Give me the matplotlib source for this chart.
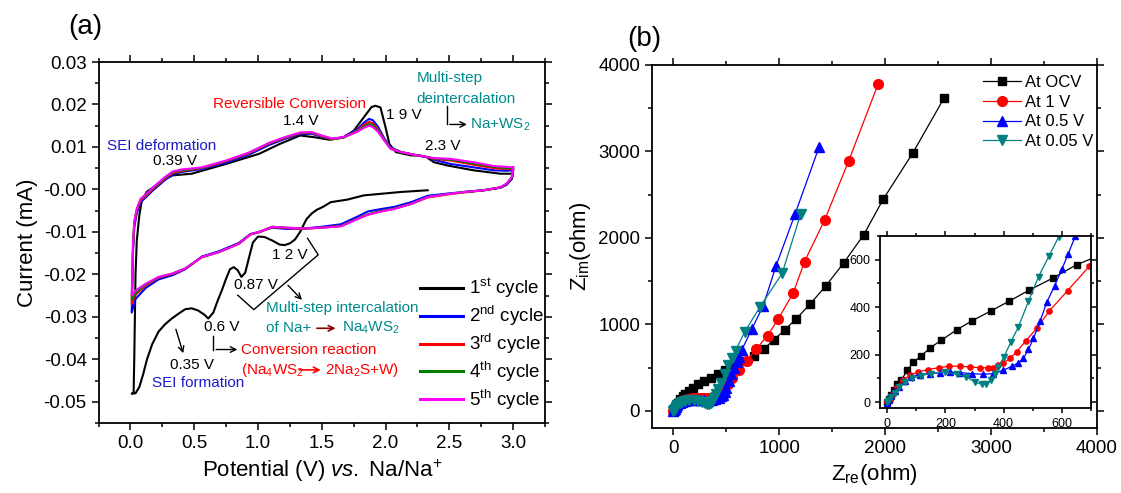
import matplotlib
matplotlib.use('Agg')
import matplotlib.pyplot as plt
from matplotlib.ticker import MultipleLocator, FormatStrFormatter

plt.rcParams['font.family'] = ['Liberation Sans', 'DejaVu Sans']
plt.rcParams['mathtext.fontset'] = 'custom'
plt.rcParams['mathtext.rm'] = 'Liberation Sans'
plt.rcParams['mathtext.it'] = 'Liberation Sans:italic'
plt.rcParams['axes.unicode_minus'] = False

# ---- (a) CV data ----
# ciclo 1 (negro): barrido catodico desde OCV y luego anodico
v1_cath = [2.33, 2.12, 1.83, 1.70, 1.57, 1.51, 1.46, 1.42, 1.38, 1.33, 1.29, 1.25, 1.21, 1.17,
           1.11, 1.05, 1.00, 0.96, 0.93, 0.90, 0.87, 0.84, 0.81, 0.78, 0.75, 0.72, 0.68, 0.65,
           0.61, 0.58, 0.53, 0.48, 0.43, 0.38, 0.32, 0.27, 0.22, 0.17, 0.13, 0.10, 0.07, 0.04, 0.01]
i1_cath = [-0.0002, -0.0006, -0.0014, -0.0024, -0.0030, -0.0041, -0.0048, -0.0057, -0.0070,
           -0.0100, -0.0118, -0.0127, -0.0131, -0.0130, -0.0120, -0.0112, -0.0111, -0.0125,
           -0.0160, -0.0196, -0.0206, -0.0190, -0.0183, -0.0188, -0.0210, -0.0235, -0.0265,
           -0.0290, -0.0304, -0.0295, -0.0285, -0.0280, -0.0282, -0.0292, -0.0305, -0.0318,
           -0.0335, -0.0365, -0.0400, -0.0435, -0.0465, -0.0480, -0.0481]
v1_anod = [0.01, 0.025, 0.03, 0.035, 0.04, 0.05, 0.07, 0.09, 0.13, 0.195, 0.26, 0.33, 0.48, 0.75,
           1.01, 1.17, 1.33, 1.44, 1.56, 1.67, 1.75, 1.81, 1.86, 1.89, 1.92, 1.96, 2.00, 2.03,
           2.08, 2.20, 2.27, 2.32, 2.38, 2.49, 2.69, 2.90, 3.00, 2.99, 2.95, 2.90, 2.77, 2.62]
i1_anod = [-0.0481, -0.0478, -0.0400, -0.0300, -0.0200, -0.0120, -0.0060, -0.0025, -0.0005,
           0.0008, 0.0022, 0.0033, 0.0037, 0.0060, 0.0084, 0.0107, 0.0127, 0.0123, 0.0117,
           0.0123, 0.0138, 0.0162, 0.0182, 0.0194, 0.0197, 0.0193, 0.0146, 0.0107, 0.0088,
           0.0080, 0.0080, 0.0076, 0.0064, 0.0056, 0.0045, 0.0037, 0.0037, 0.0025, 0.0012,
           0.0004, -0.0002, -0.0006]

# ciclos 2-5: rama catodica (3.0 V -> 0.01 V) y anodica (0.01 V -> 3.0 V)
v_cath = [3.00, 2.99, 2.95, 2.90, 2.77, 2.62, 2.51, 2.33, 2.20, 2.07, 1.95, 1.86, 1.78, 1.65,
          1.50, 1.36, 1.22, 1.11, 1.01, 0.94, 0.85, 0.77, 0.69, 0.56, 0.43, 0.33, 0.22, 0.12,
          0.04, 0.01]
v_anod = [0.01, 0.015, 0.02, 0.03, 0.05, 0.08, 0.12, 0.17, 0.22, 0.27, 0.33, 0.40, 0.47, 0.56,
          0.75, 0.93, 1.09, 1.22, 1.33, 1.42, 1.50, 1.58, 1.67, 1.73, 1.78, 1.83, 1.87, 1.90,
          1.94, 1.99, 2.04, 2.12, 2.25, 2.33, 2.38, 2.51, 2.69, 2.85, 2.95, 3.00]

i2_cath = [0.0045, 0.0026, 0.0011, 0.0004, -0.0002, -0.0006, -0.0009, -0.0015, -0.0030, -0.0041,
           -0.0047, -0.0052, -0.0064, -0.0082, -0.0088, -0.0092, -0.0093, -0.0090, -0.0100,
           -0.0105, -0.0126, -0.0136, -0.0146, -0.0158, -0.0188, -0.0202, -0.0212, -0.0232,
           -0.0258, -0.0290]
i3_cath = [0.0048, 0.0028, 0.0013, 0.0005, -0.0002, -0.0007, -0.0011, -0.0019, -0.0034, -0.0045,
           -0.0052, -0.0059, -0.0069, -0.0086, -0.0090, -0.0093, -0.0091, -0.0089, -0.0101,
           -0.0106, -0.0128, -0.0138, -0.0148, -0.0160, -0.0187, -0.0199, -0.0208, -0.0226,
           -0.0248, -0.0270]
i4_cath = [0.0050, 0.0029, 0.0013, 0.0005, -0.0002, -0.0006, -0.0010, -0.0018, -0.0034, -0.0045,
           -0.0052, -0.0059, -0.0069, -0.0086, -0.0090, -0.0092, -0.0090, -0.0088, -0.0100,
           -0.0106, -0.0128, -0.0138, -0.0148, -0.0159, -0.0186, -0.0198, -0.0207, -0.0224,
           -0.0244, -0.0260]
i5_cath = [0.0052, 0.0030, 0.0014, 0.0005, -0.0002, -0.0006, -0.0010, -0.0018, -0.0034, -0.0046,
           -0.0053, -0.0060, -0.0070, -0.0087, -0.0090, -0.0092, -0.0090, -0.0088, -0.0100,
           -0.0106, -0.0128, -0.0138, -0.0148, -0.0159, -0.0186, -0.0198, -0.0206, -0.0222,
           -0.0238, -0.0250]

i2_anod = [-0.0290, -0.0225, -0.0150, -0.0090, -0.0056, -0.0030, -0.0019, -0.0004, 0.0009,
           0.0022, 0.0035, 0.0041, 0.0044, 0.0048, 0.0063, 0.0082, 0.0105, 0.0120, 0.0130,
           0.0131, 0.0124, 0.0118, 0.0123, 0.0133, 0.0142, 0.0157, 0.0166, 0.0163, 0.0148,
           0.0120, 0.0099, 0.0088, 0.0080, 0.0076, 0.0070, 0.0060, 0.0052, 0.0045, 0.0044, 0.0045]
i3_anod = [-0.0270, -0.0210, -0.0140, -0.0082, -0.0050, -0.0026, -0.0016, -0.0001, 0.0012,
           0.0025, 0.0038, 0.0043, 0.0046, 0.0050, 0.0066, 0.0085, 0.0108, 0.0122, 0.0132,
           0.0133, 0.0125, 0.0118, 0.0122, 0.0131, 0.0139, 0.0152, 0.0159, 0.0156, 0.0142,
           0.0117, 0.0097, 0.0088, 0.0080, 0.0076, 0.0072, 0.0068, 0.0058, 0.0050, 0.0048, 0.0048]
i4_anod = [-0.0260, -0.0205, -0.0135, -0.0078, -0.0047, -0.0024, -0.0014, 0.0001, 0.0014,
           0.0027, 0.0040, 0.0045, 0.0047, 0.0051, 0.0067, 0.0086, 0.0109, 0.0123, 0.0133,
           0.0134, 0.0126, 0.0119, 0.0122, 0.0130, 0.0137, 0.0148, 0.0154, 0.0151, 0.0139,
           0.0116, 0.0096, 0.0088, 0.0080, 0.0076, 0.0073, 0.0070, 0.0061, 0.0053, 0.0050, 0.0050]
i5_anod = [-0.0250, -0.0200, -0.0130, -0.0075, -0.0045, -0.0022, -0.0012, 0.0003, 0.0016,
           0.0029, 0.0042, 0.0047, 0.0049, 0.0052, 0.0068, 0.0087, 0.0110, 0.0124, 0.0134,
           0.0135, 0.0127, 0.0120, 0.0123, 0.0130, 0.0136, 0.0145, 0.0150, 0.0147, 0.0136,
           0.0115, 0.0095, 0.0088, 0.0080, 0.0076, 0.0074, 0.0072, 0.0064, 0.0055, 0.0053, 0.0052]

cycle_labels = [r'1$^{\rm st}$ cycle', r'2$^{\rm nd}$ cycle', r'3$^{\rm rd}$ cycle',
                r'4$^{\rm th}$ cycle', r'5$^{\rm th}$ cycle']
cycle_colors = ['black', '#0000ff', '#ff0000', '#008000', '#ff00ff']

# ---- (b) EIS data ----
ocv_re = [0, 6, 14, 23, 34, 48, 69, 89, 115, 148, 186, 238, 292, 356, 420, 488, 568, 651,
          761, 855, 949, 1052, 1160, 1294, 1442, 1608, 1798, 1983, 2259, 2555]
ocv_im = [0, 14, 31, 52, 75, 92, 134, 167, 193, 229, 261, 304, 343, 384, 426, 472, 522, 579,
          634, 715, 819, 934, 1062, 1236, 1447, 1707, 2035, 2448, 2977, 3614]
v1_re = [0, 8, 20, 34, 54, 77, 106, 140, 177, 213, 249, 286, 318, 347, 364, 379, 399, 422,
         445, 476, 514, 557, 620, 694, 783, 891, 992, 1133, 1240, 1429, 1657, 1933]
v1_im = [0, 7, 35, 64, 92, 113, 127, 137, 145, 151, 151, 148, 145, 144, 144, 155, 165, 184,
         212, 258, 311, 384, 470, 572, 714, 869, 1062, 1363, 1726, 2205, 2892, 3776]
v05_re = [0, 6, 14, 25, 40, 60, 83, 111, 146, 180, 215, 250, 290, 330, 364, 399, 428, 450,
          468, 485, 502, 525, 548, 575, 600, 622, 646, 745, 850, 970, 1150, 1378]
v05_im = [-4, 7, 25, 45, 65, 88, 106, 116, 120, 124, 126, 124, 120, 117, 120, 134, 151, 165,
          184, 222, 268, 340, 420, 490, 560, 625, 699, 950, 1216, 1672, 2274, 3054]
v005_re = [0, 6, 14, 25, 40, 60, 85, 115, 150, 198, 238, 272, 301, 324, 341, 356, 370, 382,
           401, 425, 451, 485, 520, 555, 589, 676, 817, 1028, 1203]
v005_im = [0, 8, 22, 40, 62, 85, 100, 112, 120, 127, 117, 106, 85, 75, 78, 92, 117, 148,
           191, 254, 318, 424, 529, 614, 696, 915, 1196, 1588, 2274]

fig = plt.figure(figsize=(11.21, 4.93), dpi=100)

# ---------------- panel (a) ----------------
ax1 = fig.add_axes([0.0879, 0.1420, 0.3983, 0.7322])
ax1.plot(v1_cath + v1_anod, i1_cath + i1_anod, color=cycle_colors[0], lw=1.5,
         label=cycle_labels[0])
for ic, ia, col, lab in zip([i2_cath, i3_cath, i4_cath, i5_cath],
                            [i2_anod, i3_anod, i4_anod, i5_anod],
                            cycle_colors[1:], cycle_labels[1:]):
    ax1.plot(v_cath + v_anod, ic + ia, color=col, lw=1.5, label=lab)

ax1.set_xlim(-0.25, 3.25)
ax1.set_ylim(-0.055, 0.03)
ax1.xaxis.set_major_locator(MultipleLocator(0.5))
ax1.xaxis.set_minor_locator(MultipleLocator(0.25))
ax1.yaxis.set_major_locator(MultipleLocator(0.01))
ax1.yaxis.set_minor_locator(MultipleLocator(0.005))
ax1.xaxis.set_major_formatter(FormatStrFormatter('%.1f'))
ax1.yaxis.set_major_formatter(FormatStrFormatter('%.2f'))
ax1.set_xlabel(r'Potential (V) $\it{vs.}$ Na/Na$^{+}$', fontsize=16)
ax1.set_ylabel('Current (mA)', fontsize=16)

leg1 = ax1.legend(loc='upper left', bbox_to_anchor=(0.72, 0.405), frameon=False, fontsize=13.5,
                  handlelength=2.3, handletextpad=0.3, labelspacing=0.2, borderpad=0,
                  borderaxespad=0)
for ln in leg1.get_lines():
    ln.set_linewidth(2.2)

teal = '#008b8b'
tk = dict(fontsize=11)
ax1.text(-0.182, 0.0103, 'SEI deformation', color='#1c1cc8', ha='left', va='center', **tk)
ax1.text(0.35, 0.0068, '0.39 V', ha='center', va='center', **tk)
ax1.text(1.248, 0.0201, 'Reversible Conversion', color='#ff0000', ha='center', va='center', **tk)
ax1.text(1.338, 0.0160, '1.4 V', ha='center', va='center', **tk)
ax1.text(2.005, 0.0176, '1 9 V', ha='left', va='center', **tk)
ax1.text(2.446, 0.0103, '2.3 V', ha='center', va='center', **tk)
ax1.text(2.243, 0.0262, 'Multi-step', color=teal, ha='left', va='center', **tk)
ax1.text(2.243, 0.0213, 'deintercalation', color=teal, ha='left', va='center', **tk)
ax1.plot([2.482, 2.482], [0.0197, 0.0153], color='black', lw=1)
ax1.annotate('', xy=(2.66, 0.0153), xytext=(2.482, 0.0153),
             arrowprops=dict(arrowstyle='->', color='black', lw=1))
ax1.text(2.664, 0.0153, 'Na+WS$_2$', color=teal, ha='left', va='center', **tk)

ax1.text(1.248, -0.0154, '1 2 V', ha='center', va='center', **tk)
ax1.plot([1.388, 1.472, 0.967, 0.841], [-0.0115, -0.0154, -0.0283, -0.0249],
         color='black', lw=1)
ax1.annotate('', xy=(1.36, -0.0265), xytext=(1.22, -0.0221),
             arrowprops=dict(arrowstyle='->', color='black', lw=1))
ax1.text(0.981, -0.0225, '0.87 V', ha='center', va='center', **tk)
ax1.text(1.066, -0.0280, 'Multi-step intercalation', color=teal, ha='left', va='center', **tk)
ax1.text(1.066, -0.0327, 'of Na+', color=teal, ha='left', va='center', **tk)
ax1.annotate('', xy=(1.63, -0.0327), xytext=(1.44, -0.0327),
             arrowprops=dict(arrowstyle='->', color='#8b0000', lw=1.2))
ax1.text(1.655, -0.0327, 'Na$_4$WS$_2$', color=teal, ha='left', va='center', **tk)

ax1.text(0.715, -0.0325, '0.6 V', ha='center', va='center', **tk)
ax1.plot([0.65, 0.65], [-0.0345, -0.0377], color='black', lw=1)
ax1.annotate('', xy=(0.86, -0.0377), xytext=(0.65, -0.0377),
             arrowprops=dict(arrowstyle='->', color='black', lw=1))
ax1.text(0.869, -0.0377, 'Conversion reaction', color='#ff0000', ha='left', va='center', **tk)
ax1.text(0.869, -0.0425, '(Na$_4$WS$_2$', color='#ff0000', ha='left', va='center', **tk)
ax1.annotate('', xy=(1.514, -0.0425), xytext=(1.304, -0.0425),
             arrowprops=dict(arrowstyle='->', color='#ff0000', lw=1.2))
ax1.text(1.528, -0.0425, '2Na$_2$S+W)', color='#ff0000', ha='left', va='center', **tk)

ax1.annotate('', xy=(0.42, -0.0392), xytext=(0.35, -0.0323),
             arrowprops=dict(arrowstyle='->', color='black', lw=1))
ax1.text(0.485, -0.0414, '0.35 V', ha='center', va='center', **tk)
ax1.text(0.168, -0.0457, 'SEI formation', color='#1c1cc8', ha='left', va='center', **tk)

# ---------------- panel (b) ----------------
ax2 = fig.add_axes([0.5816, 0.1318, 0.3970, 0.7364])
series = [(ocv_re, ocv_im, 'black', 's', 'At OCV', 6.0),
          (v1_re, v1_im, '#ff0000', 'o', 'At 1 V', 7.0),
          (v05_re, v05_im, '#0000ff', '^', 'At 0.5 V', 7.0),
          (v005_re, v005_im, '#008080', 'v', 'At 0.05 V', 7.0)]
for zr, zi, col, mk, lab, ms in series:
    ax2.plot(zr, zi, color=col, marker=mk, ms=ms, lw=0.9, label=lab)
ax2.set_xlim(-200, 4000)
ax2.set_ylim(-200, 4000)
ax2.xaxis.set_major_locator(MultipleLocator(1000))
ax2.xaxis.set_minor_locator(MultipleLocator(500))
ax2.yaxis.set_major_locator(MultipleLocator(1000))
ax2.yaxis.set_minor_locator(MultipleLocator(500))
ax2.set_xlabel(r'Z$_{\rm re}$(ohm)', fontsize=16)
ax2.set_ylabel(r'Z$_{\rm im}$(ohm)', fontsize=16)
ax2.legend(loc='upper left', bbox_to_anchor=(0.744, 0.972), frameon=False, fontsize=12,
           handlelength=2.3, handletextpad=0.2, labelspacing=0.28, borderpad=0,
           borderaxespad=0)

axin = fig.add_axes([0.785, 0.1724, 0.1882, 0.3489])
axin.set_facecolor('white')
for zr, zi, col, mk, lab, ms in series:
    axin.plot(zr, zi, color=col, marker=mk, ms=3.8, lw=0.9)
axin.set_xlim(-25, 700)
axin.set_ylim(-25, 700)
axin.xaxis.set_major_locator(MultipleLocator(200))
axin.xaxis.set_minor_locator(MultipleLocator(100))
axin.yaxis.set_major_locator(MultipleLocator(200))
axin.yaxis.set_minor_locator(MultipleLocator(100))

for ax, fs in [(ax1, 13.5), (ax2, 13.5), (axin, 9)]:
    for sp in ax.spines.values():
        sp.set_linewidth(1.3)
    ax.tick_params(which='both', direction='out', top=True, right=True, labelsize=fs, width=1.1)
    ax.tick_params(which='major', length=5 if ax is not axin else 3.5)
    ax.tick_params(which='minor', length=3 if ax is not axin else 2)

fig.text(0.076, 0.945, '(a)', fontsize=20, ha='center', va='center')
fig.text(0.575, 0.92, '(b)', fontsize=20, ha='center', va='center')

fig.savefig('out.png', dpi=100)
